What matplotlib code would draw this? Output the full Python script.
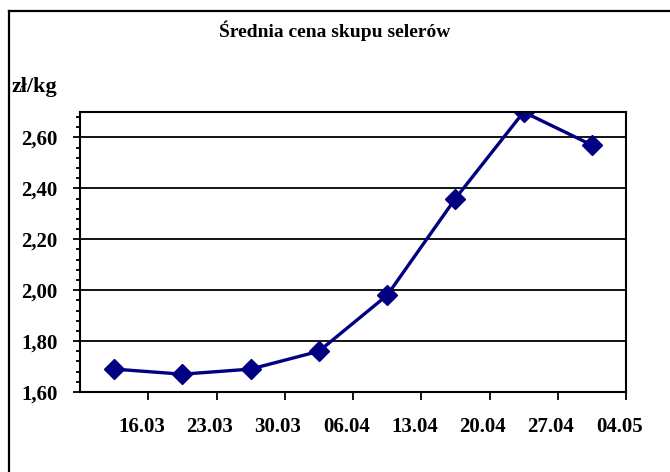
import matplotlib
matplotlib.use('Agg')
import matplotlib.pyplot as plt
from matplotlib.ticker import MultipleLocator

# dane: średnia cena skupu (zł/kg), punkty w środku tygodni
prices = [1.69, 1.67, 1.69, 1.76, 1.98, 2.36, 2.70, 2.57]
date_labels = ['16.03', '23.03', '30.03', '06.04', '13.04', '20.04', '27.04', '04.05']

title = 'Średnia cena skupu selerów'
unit = 'zł/kg'

plt.rcParams['font.family'] = ['Liberation Serif', 'DejaVu Serif']
plt.rcParams['font.weight'] = 'bold'

fig = plt.figure(figsize=(6.70, 4.72), dpi=100)
ax = fig.add_axes([80 / 670, 80 / 472, 546 / 670, 280 / 472])

x = list(range(len(prices)))
ax.plot(x, prices, color='#000080', linewidth=2.4, marker='D', markersize=10,
        markerfacecolor='#000080', markeredgecolor='#000080')

ax.set_xlim(-0.5, len(prices) - 0.5)
ax.set_ylim(1.6, 2.7)

# os Y: etykiety co 0,20, podziałka pomocnicza co 0,04
ax.yaxis.set_minor_locator(MultipleLocator(0.04))
ax.set_yticks([1.6, 1.8, 2.0, 2.2, 2.4, 2.6])
ax.set_yticklabels(['1,60', '1,80', '2,00', '2,20', '2,40', '2,60'])
ax.grid(axis='y', which='major', color='black', linewidth=1.3)

# os X: kreski na granicach tygodni, daty lekko w lewo od kresek
ax.set_xticks([i + 0.5 for i in x], minor=True)
ax.set_xticks([i + 0.4 for i in x])
ax.set_xticklabels(date_labels)

ax.tick_params(axis='y', which='major', length=5, width=1.3, pad=11, labelsize=15)
ax.tick_params(axis='y', which='minor', length=3, width=1.3)
ax.tick_params(axis='x', which='major', length=0, pad=18, labelsize=15)
ax.tick_params(axis='x', which='minor', length=6, width=1.3)
for s in ax.spines.values():
    s.set_linewidth(1.5)

fig.text(0.5, 1 - 31 / 472, title, ha='center', va='center', fontsize=14,
         fontweight='bold')
fig.text(12 / 670, 1 - 87 / 472, unit, ha='left', va='center', fontsize=16,
         fontweight='bold')

# ramka wykresu (widoczna górna i lewa krawędź)
fig.add_artist(plt.Line2D([9 / 670, 1.0], [1 - 11 / 472, 1 - 11 / 472],
                          color='black', linewidth=1.6, transform=fig.transFigure))
fig.add_artist(plt.Line2D([9 / 670, 9 / 670], [0.0, 1 - 11 / 472],
                          color='black', linewidth=1.6, transform=fig.transFigure))

fig.savefig('out.png', dpi=100)
